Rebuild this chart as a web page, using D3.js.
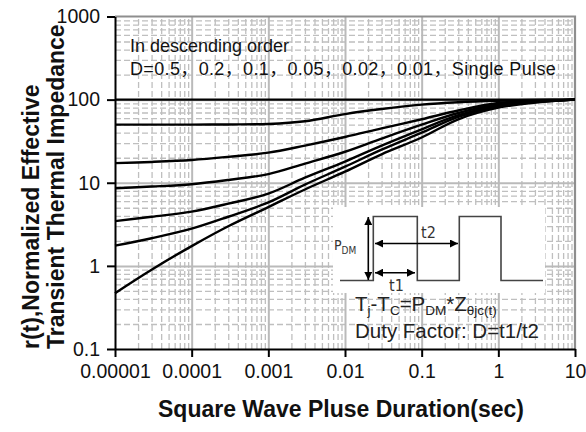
<!DOCTYPE html>
<html>
<head>
<meta charset="utf-8">
<script src="https://cdn.jsdelivr.net/npm/d3@7"></script>
<style>
  html, body { margin: 0; padding: 0; background: #fff; }
  svg { display: block; font-family: "Liberation Sans", Arial, sans-serif; }
  .axis path, .axis line { stroke: #000; stroke-width: 2; }
  .axis text { font-size: 19.5px; fill: #111; }
  .curve { fill: none; stroke: #000; stroke-width: 2.4; }
</style>
</head>
<body>
<div id="chart"></div>
<script>
// pulse width (sec), shared by all curves
const durations = [1e-5, 3e-5, 1e-4, 3e-4, 1e-3, 3e-3, 1e-2, 3e-2, 1e-1, 3e-1, 1, 3, 10];
const dutyLabels = ['0.5', '0.2', '0.1', '0.05', '0.02', '0.01', 'Single Pulse'];
// r(t), top to bottom
const rD05 = [100, 100, 100, 100, 100, 100, 100, 100, 100, 100, 100, 100, 100];
const rD02 = [50, 50, 50, 50.3, 51, 55, 67, 77, 87, 93, 97, 99, 100];
const rD01 = [17.2, 17.8, 18.8, 20.5, 23, 28, 35.5, 45, 58, 74, 91, 96, 100];
const rD005 = [8.6, 9.0, 9.6, 10.8, 12.7, 17, 23.6, 34, 50, 69, 88, 95, 100];
const rD002 = [3.45, 3.9, 4.5, 5.6, 7.4, 11.5, 18, 28, 44, 65, 85, 94, 100];
const rD001 = [1.75, 2.15, 2.8, 3.9, 5.8, 9.5, 15.6, 25, 40, 62, 83, 93, 100];
const rSingle = [0.47, 0.9, 1.73, 3.0, 5.1, 8.3, 13.6, 22, 35, 58, 80, 92, 100];
const xTicks = [1e-5, 1e-4, 1e-3, 1e-2, 1e-1, 1, 10];
const xTickLabels = ['0.00001', '0.0001', '0.001', '0.01', '0.1', '1', '10'];
const yTicks = [0.1, 1, 10, 100, 1000];
const yTickLabels = ['0.1', '1', '10', '100', '1000'];

const width = 586;
const height = 432;
const plot = { left: 115, right: 575, top: 16.5, bottom: 349 };

const svg = d3.select('#chart').append('svg')
  .attr('width', width)
  .attr('height', height);

const x = d3.scaleLog().domain([1e-5, 10]).range([plot.left, plot.right]);
const y = d3.scaleLog().domain([0.1, 1000]).range([plot.bottom, plot.top]);

// log grid: solid at decades, dashed in between
const xGrid = [];
xTicks.slice(0, -1).forEach(d => d3.range(2, 10).forEach(k => xGrid.push(d * k)));
const yGrid = [];
yTicks.slice(0, -1).forEach(d => d3.range(2, 10).forEach(k => yGrid.push(d * k)));

const gridG = svg.append('g').attr('class', 'grid');
gridG.append('g')
  .attr('transform', `translate(0,${plot.bottom})`)
  .call(d3.axisBottom(x).tickValues(xGrid).tickSize(-(plot.bottom - plot.top)).tickFormat(''));
gridG.append('g')
  .attr('transform', `translate(${plot.left},0)`)
  .call(d3.axisLeft(y).tickValues(yGrid).tickSize(-(plot.right - plot.left)).tickFormat(''));
gridG.selectAll('line')
  .attr('stroke', '#bfbfbf')
  .attr('stroke-width', 1.3)
  .attr('stroke-dasharray', '6,3');

const majorG = svg.append('g').attr('class', 'grid');
majorG.append('g')
  .attr('transform', `translate(0,${plot.bottom})`)
  .call(d3.axisBottom(x).tickValues(xTicks.slice(1, -1)).tickSize(-(plot.bottom - plot.top)).tickFormat(''));
majorG.append('g')
  .attr('transform', `translate(${plot.left},0)`)
  .call(d3.axisLeft(y).tickValues(yTicks.slice(1, -1)).tickSize(-(plot.right - plot.left)).tickFormat(''));
majorG.selectAll('line')
  .attr('stroke', '#bababa')
  .attr('stroke-width', 2);
svg.selectAll('.grid .domain').remove();

// frame: gray top/right
svg.append('path')
  .attr('d', `M${plot.left},${plot.top}H${plot.right}V${plot.bottom}`)
  .attr('fill', 'none')
  .attr('stroke', '#8e8e8e')
  .attr('stroke-width', 2.2);

// inset backdrop hides the grid behind the waveform
const inset = svg.append('g');
inset.append('rect')
  .attr('x', 333).attr('y', 207)
  .attr('width', 212).attr('height', 86)
  .attr('fill', '#fff');

// curves
const series = [rD05, rD02, rD01, rD005, rD002, rD001, rSingle];
const lineGen = d3.line()
  .x((d, i) => x(durations[i]))
  .y(d => y(d))
  .curve(d3.curveCatmullRom.alpha(0.5));

svg.append('g').selectAll('path')
  .data(series)
  .join('path')
  .attr('class', 'curve')
  .attr('d', lineGen);

// axes
svg.append('g')
  .attr('class', 'axis')
  .attr('transform', `translate(0,${plot.bottom})`)
  .call(d3.axisBottom(x).tickValues(xTicks).tickFormat((d, i) => xTickLabels[i])
    .tickSize(8).tickSizeOuter(0).tickPadding(7));

svg.append('g')
  .attr('class', 'axis')
  .attr('transform', `translate(${plot.left},0)`)
  .call(d3.axisLeft(y).tickValues(yTicks).tickFormat((d, i) => yTickLabels[i])
    .tickSize(8).tickSizeOuter(0).tickPadding(7));

svg.selectAll('.axis').attr('font-family', null).attr('font-size', null);

// titles
svg.append('text')
  .attr('x', (plot.left + plot.right) / 2 - 4)
  .attr('y', 417)
  .attr('text-anchor', 'middle')
  .attr('font-weight', 'bold')
  .attr('font-size', 23)
  .attr('fill', '#111')
  .text('Square Wave Pluse Duration(sec)');

const yTitle = svg.append('text')
  .attr('transform', 'rotate(-90)')
  .attr('font-weight', 'bold')
  .attr('font-size', 23)
  .attr('fill', '#111');
yTitle.append('tspan').attr('x', -349).attr('y', 39).text('r(t),Normalized Effective');
yTitle.append('tspan').attr('x', -349).attr('y', 64).text('Transient Thermal Impedance');

// legend note
svg.append('text')
  .attr('x', 130).attr('y', 52)
  .attr('font-size', 18)
  .attr('fill', '#111')
  .text('In descending order');
svg.append('text')
  .attr('x', 130).attr('y', 75)
  .attr('font-size', 18)
  .attr('letter-spacing', 0.35)
  .attr('font-family', '"Liberation Sans", "Noto Sans CJK SC", sans-serif')
  .attr('fill', '#111')
  .text('D=' + dutyLabels.join('，'));

// pulse diagram
const wave = [[340, 280.5], [373.3, 280.5], [373.3, 216.5], [417.3, 216.5], [417.3, 280.5],
  [459.3, 280.5], [459.3, 216.5], [501, 216.5], [501, 280.5], [543, 280.5]];
inset.append('path')
  .attr('d', d3.line()(wave))
  .attr('fill', 'none')
  .attr('stroke', '#444')
  .attr('stroke-width', 1.6);

const defs = svg.append('defs');
defs.append('marker')
  .attr('id', 'arr')
  .attr('viewBox', '0 0 10 10')
  .attr('refX', 10).attr('refY', 5)
  .attr('markerWidth', 5).attr('markerHeight', 5)
  .attr('orient', 'auto-start-reverse')
  .append('path')
  .attr('d', 'M0,0L10,5L0,10z')
  .attr('fill', '#000');

const arrows = [
  [368.3, 217, 368.3, 280],
  [375, 243.5, 458, 243.5],
  [375, 272.7, 415, 272.7],
];
inset.selectAll('line.arrow').data(arrows).join('line')
  .attr('class', 'arrow')
  .attr('x1', d => d[0]).attr('y1', d => d[1])
  .attr('x2', d => d[2]).attr('y2', d => d[3])
  .attr('stroke', '#000')
  .attr('stroke-width', 1.6)
  .attr('marker-start', 'url(#arr)')
  .attr('marker-end', 'url(#arr)');

const narrow = '"Liberation Sans Narrow", "Arial Narrow", "DejaVu Sans Condensed", sans-serif';
const pdm = inset.append('text')
  .attr('x', 334).attr('y', 250)
  .attr('font-family', narrow)
  .attr('fill', '#333')
  .attr('font-size', 14);
pdm.append('tspan').text('P');
pdm.append('tspan').attr('dy', 4).attr('font-size', 10).text('DM');

inset.append('text')
  .attr('x', 421).attr('y', 238)
  .attr('font-family', narrow)
  .attr('font-size', 16)
  .attr('fill', '#333')
  .text('t2');
inset.append('text')
  .attr('x', 389).attr('y', 291)
  .attr('font-family', narrow)
  .attr('font-size', 16)
  .attr('fill', '#333')
  .text('t1');

const formula = svg.append('text')
  .attr('x', 355).attr('y', 311)
  .attr('font-size', 20.5)
  .attr('fill', '#222');
const parts = [['T', 0], ['j', 1], ['-T', 0], ['C', 1], ['=P', 0], ['DM', 1], ['*Z', 0], ['θjc(t)', 1]];
let lastSub = 0;
parts.forEach(([t, sub]) => {
  formula.append('tspan')
    .attr('dy', (sub - lastSub) * 4)
    .attr('font-size', sub ? 13.5 : 20.5)
    .text(t);
  lastSub = sub;
});

svg.append('text')
  .attr('x', 355).attr('y', 338)
  .attr('font-size', 20.5)
  .attr('fill', '#222')
  .text('Duty Factor: D=t1/t2');
</script>
</body>
</html>
